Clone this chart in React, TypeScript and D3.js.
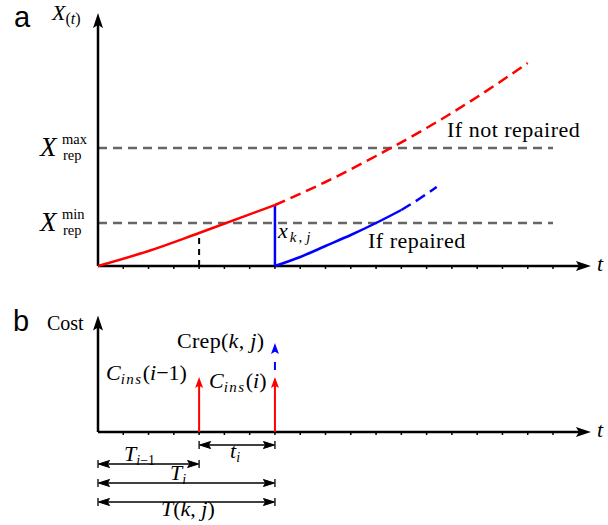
import React from 'react';
import * as d3 from 'd3';

// time in inspection-interval units, degradation X(t) in arbitrary units
const tTicks = d3.range(1, 19);
const tPrevIns = 4;
const tIns = 7;
const xRepMin = 4.3;
const xRepMax = 11.8;

// not repaired (red)
const redSolidT = [0, 2, 4, 7];
const redSolidX = [0, 1.5, 3.3, 6.1];
const redDashT = [7, 9, 11, 13, 15, 17];
const redDashX = [6.1, 8.4, 11.0, 13.8, 16.9, 20.3];
// repaired (blue)
const blueSolidT = [7, 8, 9, 10, 11, 12];
const blueSolidX = [0, 0.9, 2.0, 3.1, 4.3, 5.6];
const blueDashT = [12, 12.7, 13.4];
const blueDashX = [5.6, 6.7, 7.9];

// panel b costs
const costIns = 5.0;
const costRep = 8.1;

const W = 608;
const H = 525;
const RED = '#ff0000';
const BLUE = '#0000ff';
const serif = "'Liberation Serif', 'DejaVu Serif', serif";
const sans = "'Liberation Sans', Arial, sans-serif";

const x = d3.scaleLinear().domain([0, 18]).range([98, 553]);
const yA = d3.scaleLinear().domain([0, 25]).range([266, 16]);
const yB = d3.scaleLinear().domain([0, 10]).range([432, 322]);
const tEnd = 19.5;

const zip = (a: number[], b: number[]) => a.map((v, i) => [v, b[i]] as [number, number]);
const lineA = d3.line<[number, number]>()
  .x(d => x(d[0]))
  .y(d => yA(d[1]))
  .curve(d3.curveMonotoneX);

function Head({ px, py, dir, len = 10, half = 3.5, fill = '#000' }:
  { px: number; py: number; dir: 'up' | 'left' | 'right'; len?: number; half?: number; fill?: string }) {
  let pts = '';
  if (dir === 'up') pts = `${px},${py} ${px - half},${py + len} ${px},${py + len * 0.8} ${px + half},${py + len}`;
  if (dir === 'right') pts = `${px},${py} ${px - len},${py - half} ${px - len * 0.8},${py} ${px - len},${py + half}`;
  if (dir === 'left') pts = `${px},${py} ${px + len},${py - half} ${px + len * 0.8},${py} ${px + len},${py + half}`;
  return <polygon points={pts} fill={fill} />;
}

function Span({ t0, t1, yy }: { t0: number; t1: number; yy: number }) {
  const a = x(t0), b = x(t1);
  return (
    <g stroke="#000">
      <line x1={a + 2} x2={b - 2} y1={yy} y2={yy} strokeWidth={1.6} />
      <line x1={a} x2={a} y1={yy - 4} y2={yy + 4} strokeWidth={1.3} />
      <line x1={b} x2={b} y1={yy - 4} y2={yy + 4} strokeWidth={1.3} />
      <Head px={a + 0.5} py={yy} dir="left" len={11} half={3.5} />
      <Head px={b - 0.5} py={yy} dir="right" len={11} half={3.5} />
    </g>
  );
}

function TimeAxis({ yy }: { yy: number }) {
  return (
    <g>
      <line x1={x(0)} x2={x(tEnd) - 10} y1={yy} y2={yy} stroke="#000" strokeWidth={2.5} />
      <Head px={x(tEnd)} py={yy} dir="right" len={15} half={5} />
      {tTicks.map(t => (
        <line key={t} x1={x(t)} x2={x(t)} y1={yy} y2={yy + 3} stroke="#000" strokeWidth={1.5} />
      ))}
      <text x={x(tEnd) + 6} y={yy + 5} fontFamily={serif} fontStyle="italic" fontSize={22}>t</text>
    </g>
  );
}

function RepLabel({ v, sup }: { v: number; sup: string }) {
  const yy = yA(v);
  return (
    <text fontFamily={serif}>
      <tspan x={40} y={yy + 8} fontSize={27} fontStyle="italic">X</tspan>
      <tspan x={62} y={yy - 4} fontSize={14.5}>{sup}</tspan>
      <tspan x={63} y={yy + 12} fontSize={14.5}>rep</tspan>
    </text>
  );
}

export default function App() {
  const insX = x(tIns);
  const prevX = x(tPrevIns);
  const redAtPrev = redSolidX[redSolidT.indexOf(tPrevIns)];
  const redAtIns = redSolidX[redSolidT.indexOf(tIns)];

  return (
    <svg width={W} height={H} viewBox={`0 0 ${W} ${H}`}
      style={{ position: 'absolute', left: 0, top: 0, background: '#fff' }}>
      {/* ---------- panel a ---------- */}
      <text x={14} y={27} fontFamily={sans} fontSize={29}>a</text>

      {/* threshold lines */}
      {[xRepMax, xRepMin].map(v => (
        <line key={v} x1={x(0)} x2={x(18)} y1={yA(v)} y2={yA(v)}
          stroke="#666" strokeWidth={2.5} strokeDasharray="9 6" />
      ))}

      {/* y axis */}
      <line x1={x(0)} x2={x(0)} y1={yA(0)} y2={yA(25.3) + 10} stroke="#000" strokeWidth={2.5} />
      <Head px={x(0)} py={yA(25.3)} dir="up" len={15} half={5} />
      <TimeAxis yy={yA(0)} />

      {/* inspection markers */}
      <line x1={prevX} x2={prevX} y1={yA(0)} y2={yA(redAtPrev)} stroke="#000" strokeWidth={2} strokeDasharray="6 5" />
      <line x1={insX} x2={insX} y1={yA(0)} y2={yA(redAtIns)} stroke={BLUE} strokeWidth={2.5} />

      {/* curves */}
      <path d={lineA(zip(redSolidT, redSolidX)) ?? ''} fill="none" stroke={RED} strokeWidth={2.5} />
      <path d={lineA(zip(redDashT, redDashX)) ?? ''} fill="none" stroke={RED} strokeWidth={2.5} strokeDasharray="11 6" />
      <path d={lineA(zip(blueSolidT, blueSolidX)) ?? ''} fill="none" stroke={BLUE} strokeWidth={2.5} />
      <path d={lineA(zip(blueDashT, blueDashX)) ?? ''} fill="none" stroke={BLUE} strokeWidth={2.5} strokeDasharray="11 6" />

      {/* labels a */}
      <g fontFamily={serif}>
        <text x={52} y={20} fontSize={22}>
          <tspan fontStyle="italic">X</tspan>
          <tspan fontSize={16} dy={4}>(</tspan>
          <tspan fontSize={16} fontStyle="italic">t</tspan>
          <tspan fontSize={16}>)</tspan>
        </text>
        <RepLabel v={xRepMax} sup="max" />
        <RepLabel v={xRepMin} sup="min" />

        <text x={447} y={137} fontSize={22} letterSpacing={0.5}>If not repaired</text>
        <text x={368} y={248} fontSize={22} letterSpacing={0.5}>If repaired</text>

        <text x={insX + 3} y={238} fontSize={22}>
          <tspan fontStyle="italic">x</tspan>
          <tspan fontSize={15} dy={4} dx={2} fontStyle="italic">k</tspan>
          <tspan fontSize={15} dx={2}>,</tspan>
          <tspan fontSize={15} dx={4} fontStyle="italic">j</tspan>
        </text>
      </g>

      {/* ---------- panel b ---------- */}
      <text x={13} y={331} fontFamily={sans} fontSize={29}>b</text>
      <text x={47} y={330} fontFamily={serif} fontSize={20}>Cost</text>

      <line x1={x(0)} x2={x(0)} y1={yB(0)} y2={yB(10.6) + 10} stroke="#000" strokeWidth={2.5} />
      <Head px={x(0)} py={yB(10.6)} dir="up" len={15} half={5} />
      <TimeAxis yy={yB(0)} />

      {/* cost impulses */}
      {[tPrevIns, tIns].map(t => (
        <g key={t}>
          <line x1={x(t)} x2={x(t)} y1={yB(0)} y2={yB(costIns) + 8} stroke={RED} strokeWidth={2} />
          <Head px={x(t)} py={yB(costIns)} dir="up" len={11} half={4} fill={RED} />
        </g>
      ))}
      <line x1={insX} x2={insX} y1={yB(costIns) - 7} y2={yB(costRep) + 9} stroke={BLUE} strokeWidth={2} strokeDasharray="8 10" />
      <Head px={insX} py={yB(costRep)} dir="up" len={11} half={4} fill={BLUE} />

      <g fontFamily={serif} fontSize={22}>
        <text x={177} y={348} letterSpacing={0.3}>
          Crep(<tspan fontStyle="italic">k</tspan>, <tspan fontStyle="italic">j</tspan>)
        </text>
        <text x={106} y={380}>
          <tspan fontStyle="italic">C</tspan>
          <tspan fontStyle="italic" fontSize={15} dy={4} letterSpacing={1.5}>ins</tspan>
          <tspan dy={-4}>(</tspan>
          <tspan fontStyle="italic">i</tspan>
          <tspan>−1)</tspan>
        </text>
        <text x={209} y={388}>
          <tspan fontStyle="italic">C</tspan>
          <tspan fontStyle="italic" fontSize={15} dy={4} letterSpacing={1.5}>ins</tspan>
          <tspan dy={-4}>(</tspan>
          <tspan fontStyle="italic">i</tspan>
          <tspan>)</tspan>
        </text>
      </g>

      {/* interval spans */}
      <Span t0={tPrevIns} t1={tIns} yy={445} />
      <Span t0={0} t1={tPrevIns} yy={464} />
      <Span t0={0} t1={tIns} yy={483} />
      <Span t0={0} t1={tIns} yy={502} />

      <g fontFamily={serif} fontSize={22}>
        <text x={230} y={458} fontStyle="italic">
          t<tspan fontSize={14} dy={4}>i</tspan>
        </text>
        <text x={124} y={461}>
          <tspan fontStyle="italic">T</tspan>
          <tspan fontSize={14} dy={4} fontStyle="italic">i</tspan>
          <tspan fontSize={14}>−1</tspan>
        </text>
        <text x={170} y={480}>
          <tspan fontStyle="italic">T</tspan>
          <tspan fontSize={14} dy={4} fontStyle="italic">i</tspan>
        </text>
        <text x={161} y={516}>
          <tspan fontStyle="italic">T</tspan>(<tspan fontStyle="italic">k</tspan>, <tspan fontStyle="italic">j</tspan>)
        </text>
      </g>
    </svg>
  );
}
